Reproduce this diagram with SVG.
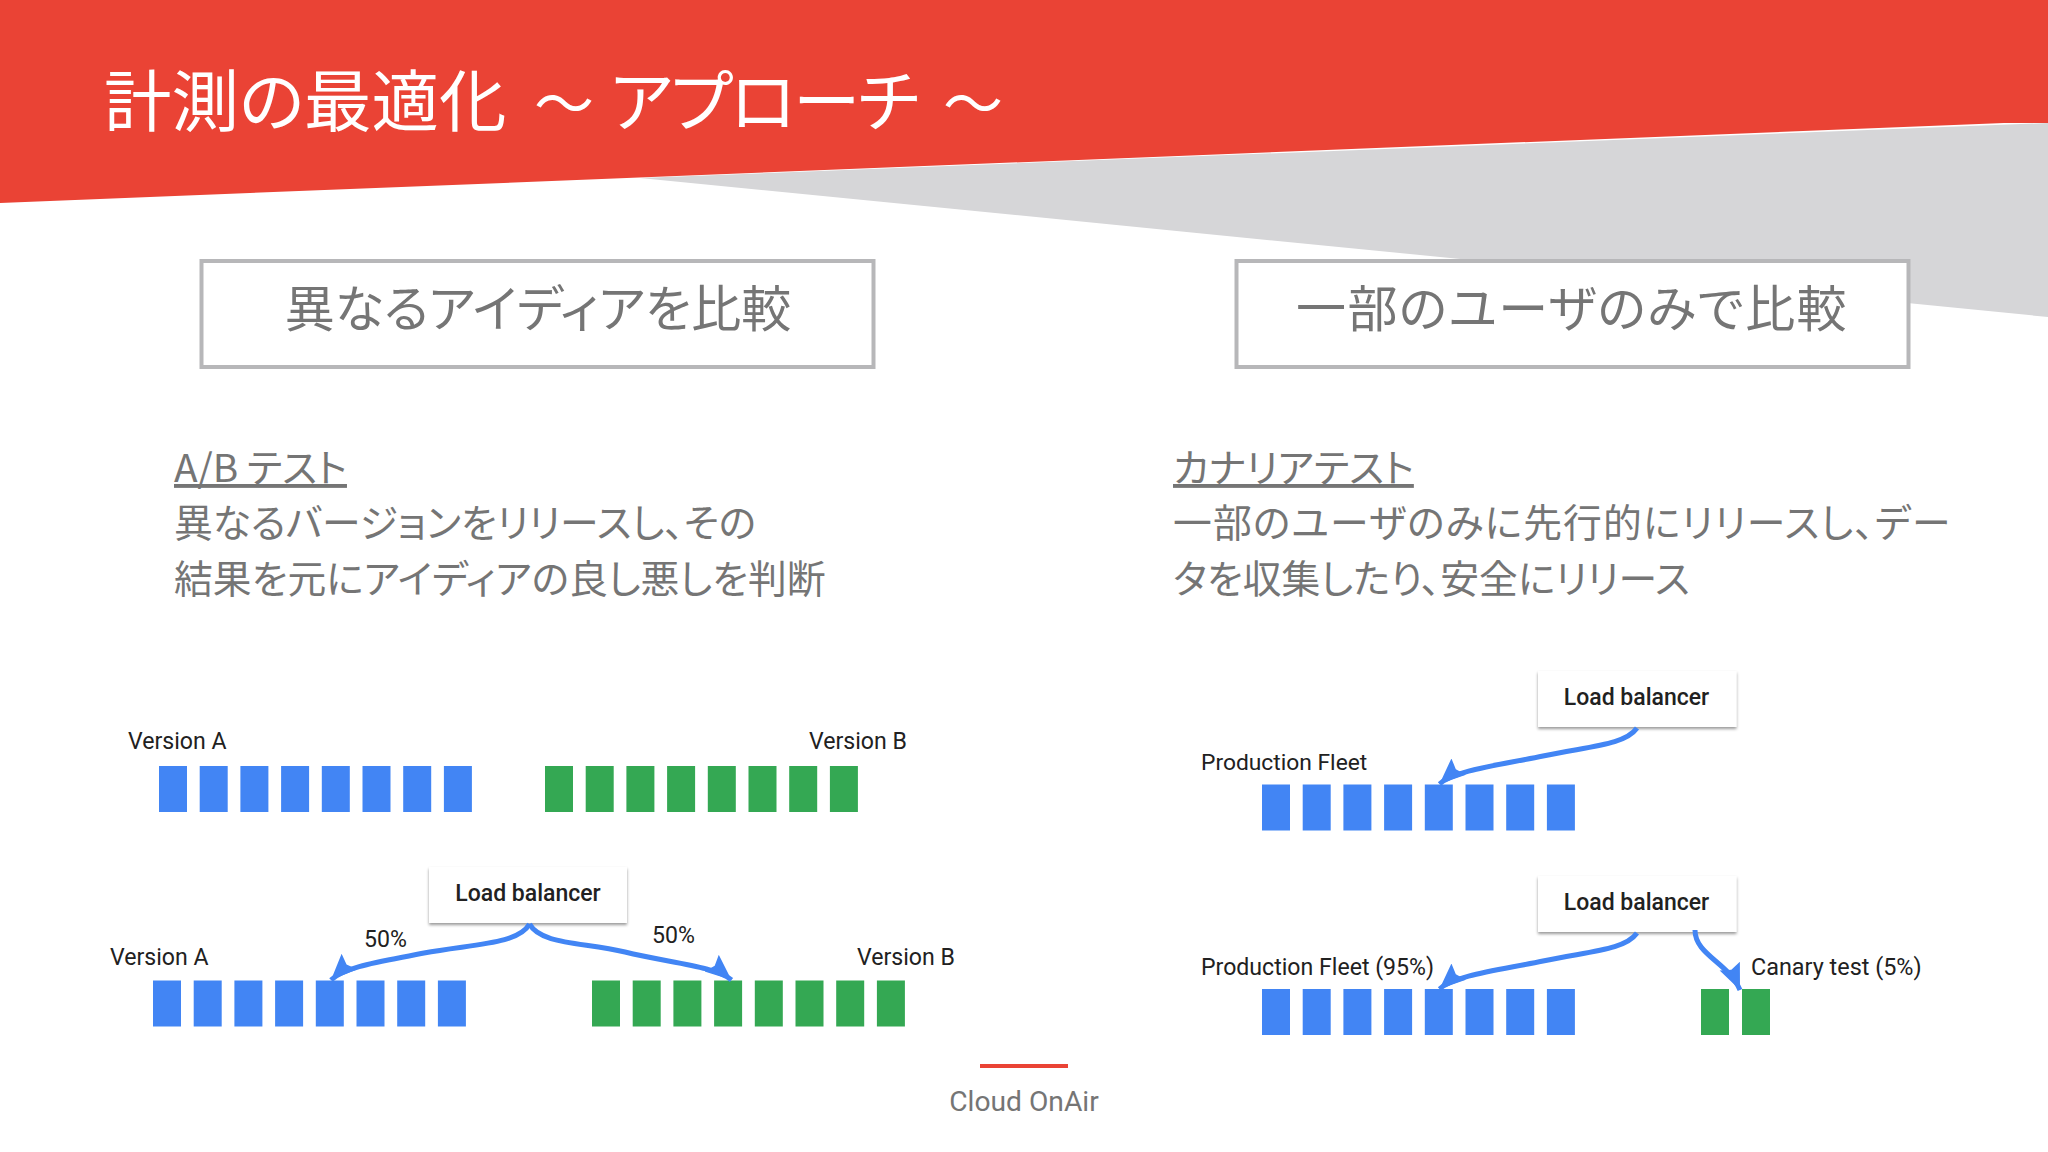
<svg xmlns="http://www.w3.org/2000/svg" xmlns:xlink="http://www.w3.org/1999/xlink" width="2048" height="1152" viewBox="0 0 2048 1152">
<style>
text{font-family:"Noto Sans CJK JP","Noto Sans",sans-serif}
.title{font-size:67.5px;fill:#fff;font-family:"Noto Sans CJK JP",sans-serif;font-feature-settings:"palt"}
.wave{font-size:60px}
.box{fill:#fff;stroke:#b7b7b9;stroke-width:4}
.head{font-size:50px;fill:#757575;text-anchor:middle;font-feature-settings:"palt"}
.body{font-size:38.8px;fill:#757575;font-feature-settings:"palt"}
.u{text-decoration:underline}
.lab{font-family:Roboto,"Liberation Sans",sans-serif;font-size:23.1px;fill:#212121}
.lb{font-family:Roboto,"Liberation Sans",sans-serif;font-weight:500;font-size:23px;fill:#212121;text-anchor:middle}
.card{fill:#fff;filter:url(#sh)}
.blue{fill:#4285f4}
.green{fill:#34a853}
.conn{fill:none;stroke:#4285f4;stroke-width:5;marker-end:url(#ah)}
</style>
<defs>
<filter id="sh" x="-10%" y="-10%" width="120%" height="130%"><feDropShadow dx="0" dy="2" stdDeviation="1.5" flood-color="#000" flood-opacity="0.4"/></filter>
<marker id="ah" markerUnits="userSpaceOnUse" markerWidth="32" markerHeight="26" refX="26" refY="11" orient="auto"><path d="M0 0L26 11L0 22L4 11Z" fill="#4285f4"/></marker>
<g id="b8"><rect width="28" height="46"/><rect x="40.7" width="28" height="46"/><rect x="81.4" width="28" height="46"/><rect x="122.1" width="28" height="46"/><rect x="162.8" width="28" height="46"/><rect x="203.5" width="28" height="46"/><rect x="244.2" width="28" height="46"/><rect x="284.9" width="28" height="46"/></g>
</defs>
<rect width="2048" height="1152" fill="#fff"/>
<polygon id="grey-band" points="640,178 2048,123 2048,317" fill="#d6d6d8"/>
<polygon id="red-band" points="0,0 2048,0 2048,123 2004,123 0,203" fill="#ea4335"/>
<text class="title" y="126"><tspan x="104">計測の最適化</tspan><tspan class="wave" x="534">〜</tspan><tspan x="610" letter-spacing="-2.4">アプローチ</tspan><tspan class="wave" x="943">〜</tspan></text>
<g id="left-head"><rect class="box" x="201.5" y="261" width="672" height="106"/><text class="head" x="538" y="327">異なるアイディアを比較</text></g>
<g id="right-head"><rect class="box" x="1236.5" y="261" width="672" height="106"/><text class="head" x="1572" y="327" letter-spacing="1.4">一部のユーザのみで比較</text></g>
<g id="left-body"><text class="body u" x="174" y="482">A/B テスト</text><text class="body" x="174" y="537">異なるバージョンをリリースし、その</text><text class="body" x="174" y="593">結果を元にアイディアの良し悪しを判断</text></g>
<g id="right-body"><text class="body u" x="1173" y="482">カナリアテスト</text><text class="body" x="1173" y="537" letter-spacing="1.1">一部のユーザのみに先行的にリリースし、デー</text><text class="body" x="1173" y="593">タを収集したり、安全にリリース</text></g>
<g id="ab-row1"><text class="lab" x="128" y="748.5">Version A</text><text class="lab" x="809" y="748.5">Version B</text><use href="#b8" class="blue" x="159" y="766"/><use href="#b8" class="green" x="545" y="766"/></g>
<g id="ab-row2"><text class="lab" x="110" y="964.5">Version A</text><text class="lab" x="857" y="964.5">Version B</text><text class="lab" x="364" y="946.5">50%</text><text class="lab" x="652" y="942.5">50%</text><use href="#b8" class="blue" x="153" y="980.5"/><use href="#b8" class="green" x="592" y="980.5"/></g>
<g id="lb-ab"><rect class="card" x="429" y="867" width="198" height="56"/><text class="lb" x="528" y="901">Load balancer</text></g>
<g id="fleet-1"><text class="lab" x="1201" y="769.5" style="font-size:22.8px">Production Fleet</text><use href="#b8" class="blue" x="1262" y="784.5"/></g>
<g id="lb-fleet-1"><rect class="card" x="1538" y="671" width="198.5" height="56"/><text class="lb" x="1636.5" y="705">Load balancer</text></g>
<g id="fleet-2"><text class="lab" x="1201" y="974.5">Production Fleet (95%)</text><text class="lab" x="1751" y="974.5" style="font-size:23.4px">Canary test (5%)</text><use href="#b8" class="blue" x="1262" y="989"/><rect class="green" x="1701" y="989" width="28" height="46"/><rect class="green" x="1742" y="989" width="28" height="46"/></g>
<g id="lb-fleet-2"><rect class="card" x="1538" y="876" width="198.5" height="56"/><text class="lb" x="1636.5" y="910">Load balancer</text></g>
<g id="connectors">
<path class="conn" d="M529.5 924C518 945 470 944 424 953C385 961 345 966 331 980"/>
<path class="conn" d="M529.5 924C541 945 585 942 625 952C670 963 715 966 731.5 980"/>
<path class="conn" d="M1637 728C1625 745 1590 746 1543 756C1500 765 1455 770 1439.5 784"/>
<path class="conn" d="M1637 933C1625 950 1590 951 1543 961C1500 970 1455 975 1439.5 989"/>
<path class="conn" d="M1695 930C1695 955 1728 962 1740 990"/>
</g>
<g id="footer"><line x1="980" y1="1066" x2="1068" y2="1066" stroke="#ea4335" stroke-width="4"/><text x="1024" y="1111" text-anchor="middle" style="font-family:Roboto,sans-serif;font-size:28.2px;fill:#757575">Cloud OnAir</text></g>
</svg>
